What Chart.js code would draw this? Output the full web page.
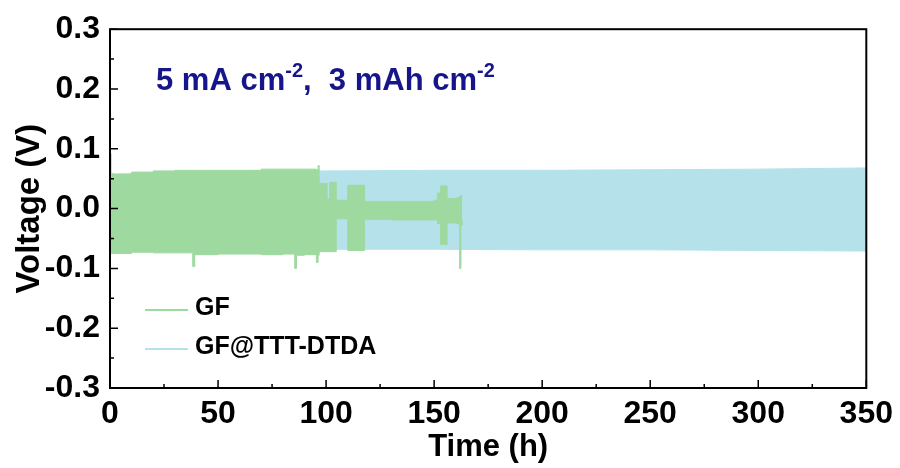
<!DOCTYPE html>
<html>
<head>
<meta charset="utf-8">
<script src="https://cdn.jsdelivr.net/npm/chart.js@4/dist/chart.umd.min.js"></script>
<style>
  html, body { margin: 0; padding: 0; background: #fff; }
  #wrap { width: 900px; height: 468px; position: relative; }
</style>
</head>
<body>
<div id="wrap"><canvas id="chart"></canvas></div>
<script>
// envelope of the cycling voltage (upper / lower limits)
// GF values hold from each time until the next one (stepped)
const timeGF = [0, 0.5, 2, 10, 20, 30, 38.3, 39.2, 50, 60, 70, 80, 85.5, 86.3, 90, 94, 95.5, 96.3, 96.8, 100.5, 101.7, 104.7, 110, 117.8, 130, 140, 150, 151.5, 153, 156, 160, 161.8, 162.4, 163];
const gfUpper = [0.092, 0.058, 0.057, 0.061, 0.063, 0.064, 0.064, 0.064, 0.064, 0.064, 0.066, 0.066, 0.066, 0.066, 0.066, 0.066, 0.065, 0.072, 0.042, 0.016, 0.044, 0.014, 0.039, 0.012, 0.012, 0.012, 0.014, 0.026, 0.038, 0.017, 0.018, 0.021, 0.022, 0.022];
const gfLower = [-0.070, -0.075, -0.075, -0.073, -0.074, -0.074, -0.097, -0.077, -0.076, -0.076, -0.077, -0.076, -0.100, -0.078, -0.077, -0.077, -0.090, -0.078, -0.072, -0.072, -0.072, -0.017, -0.070, -0.018, -0.019, -0.019, -0.019, -0.025, -0.060, -0.024, -0.025, -0.100, -0.028, -0.020];

const timeDTDA = [0, 20, 50, 95, 100, 150, 200, 250, 300, 350];
const dtdaUpper = [0.058, 0.060, 0.062, 0.063, 0.063, 0.064, 0.064, 0.065, 0.066, 0.068];
const dtdaLower = [-0.066, -0.067, -0.068, -0.068, -0.068, -0.068, -0.069, -0.069, -0.070, -0.071];

const xTicks = [0, 50, 100, 150, 200, 250, 300, 350];
const yTicks = [-0.3, -0.2, -0.1, 0, 0.1, 0.2, 0.3];
const seriesNames = ['GF', 'GF@TTT-DTDA'];

const GREEN = 'rgb(158,217,160)';
const BLUE = 'rgb(181,226,234)';
const FONT = 'Liberation Sans, Arial, sans-serif';

const pts = (t, v) => t.map((x, i) => ({ x: x, y: v[i] }));

function band(t, v, color, fill, stepped) {
  return { data: pts(t, v), borderColor: color, backgroundColor: color, borderWidth: 1, pointRadius: 0, tension: 0, stepped: stepped, fill: fill };
}

// frame, inward ticks, legend and annotation
const decor = {
  id: 'decor',
  afterDraw(chart) {
    const ctx = chart.ctx, a = chart.chartArea;
    const xs = chart.scales.x, ys = chart.scales.y;
    ctx.save();
    ctx.strokeStyle = '#000';
    ctx.lineWidth = 2;
    ctx.strokeRect(a.left, a.top, a.right - a.left, a.bottom - a.top);
    ctx.lineWidth = 1.5;
    ctx.beginPath();
    for (let v = 0; v <= 350; v += 25) {
      const px = xs.getPixelForValue(v);
      const len = v % 50 === 0 ? 8 : 4;
      ctx.moveTo(px, a.bottom); ctx.lineTo(px, a.bottom - len);
    }
    for (let i = -6; i <= 6; i++) {
      const py = ys.getPixelForValue(i * 0.05);
      const len = i % 2 === 0 ? 8 : 4;
      ctx.moveTo(a.left, py); ctx.lineTo(a.left + len, py);
    }
    ctx.stroke();

    // legend
    const rows = [[GREEN, 308], [BLUE, 347]];
    ctx.font = 'bold 25px ' + FONT;
    ctx.textBaseline = 'middle';
    ctx.fillStyle = '#000';
    rows.forEach((r, i) => {
      ctx.strokeStyle = r[0];
      ctx.lineWidth = 2;
      ctx.beginPath(); ctx.moveTo(145, r[1] + 2); ctx.lineTo(188, r[1] + 2); ctx.stroke();
      ctx.fillText(seriesNames[i], 195, r[1]);
    });

    // condition annotation
    ctx.fillStyle = '#16168a';
    ctx.textBaseline = 'alphabetic';
    let x = 156;
    const base = 90;
    const parts = [['5 mA cm', false], ['-2', true], [',  3 mAh cm', false], ['-2', true]];
    parts.forEach(p => {
      ctx.font = (p[1] ? 'bold 20px ' : 'bold 31px ') + FONT;
      ctx.fillText(p[0], x, p[1] ? base - 13 : base);
      x += ctx.measureText(p[0]).width;
    });
    ctx.restore();
  }
};

new Chart(document.getElementById('chart'), {
  type: 'line',
  data: {
    datasets: [
      band(timeGF, gfUpper, GREEN, '+1', 'before'),
      band(timeGF, gfLower, GREEN, false, 'before'),
      band(timeDTDA, dtdaUpper, BLUE, '+1', false),
      band(timeDTDA, dtdaLower, BLUE, false, false)
    ]
  },
  options: {
    responsive: true,
    maintainAspectRatio: false,
    animation: false,
    layout: { padding: { left: 0, top: 25, right: 30, bottom: 0 } },
    plugins: { legend: { display: false }, tooltip: { enabled: false } },
    scales: {
      x: {
        type: 'linear', min: 0, max: 350,
        grid: { display: false, drawTicks: false },
        border: { display: false },
        afterBuildTicks: s => { s.ticks = xTicks.map(v => ({ value: v })); },
        afterFit: s => { s.height = 80; },
        ticks: { color: '#000', padding: 7, font: { family: FONT, size: 32, weight: 'bold' }, maxRotation: 0 },
        title: { display: true, text: 'Time (h)', color: '#000', padding: { top: 0, bottom: 2 }, font: { family: FONT, size: 31, weight: 'bold' } }
      },
      y: {
        type: 'linear', min: -0.3, max: 0.3,
        grid: { display: false, drawTicks: false },
        border: { display: false },
        afterBuildTicks: s => { s.ticks = yTicks.map(v => ({ value: v })); },
        afterFit: s => { s.width = 110; },
        ticks: { color: '#000', padding: 10, font: { family: FONT, size: 32, weight: 'bold' }, callback: v => v.toFixed(1) },
        title: { display: true, text: 'Voltage (V)', color: '#000', padding: { top: 10, bottom: 0 }, font: { family: FONT, size: 33, weight: 'bold' } }
      }
    }
  },
  plugins: [decor]
});
</script>
</body>
</html>
